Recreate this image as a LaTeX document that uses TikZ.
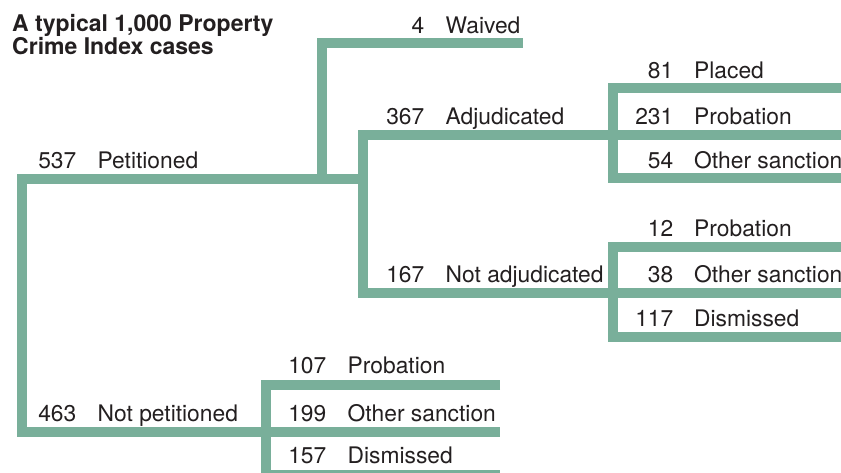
\documentclass[tikz,border=0pt]{standalone}
\usepackage{fontspec}
\setmainfont{TeX Gyre Heros}
\definecolor{branchcol}{RGB}{121,175,154}
\definecolor{textcol}{RGB}{35,31,32}
\begin{document}
\begin{tikzpicture}[x=1pt,y=-1pt,
  branch/.style={draw=branchcol,line width=10pt,line join=miter,line cap=butt},
  lab/.style={inner sep=0pt,anchor=base west,text=textcol,font=\fontsize{22.8}{24}\selectfont},
  num/.style={inner sep=0pt,anchor=base east,text=textcol,font=\fontsize{22.8}{24}\selectfont},
  ttl/.style={inner sep=0pt,anchor=base west,text=textcol,font=\fontsize{23}{24}\selectfont\bfseries}]
\useasboundingbox (0,0) rectangle (841,472);
\clip (0,0) rectangle (841,472);
% coordinates
\coordinate (root) at (22,179);
\coordinate (rootJ) at (363,179);
\coordinate (np) at (22,432);
\coordinate (npE) at (500,432);
\coordinate (wvB) at (322,179);
\coordinate (wvT) at (322,43);
\coordinate (wvE) at (523,43);
\coordinate (adjS) at (363,135);
\coordinate (adjE) at (846,135);
\coordinate (nadjS) at (363,293);
\coordinate (nadjE) at (846,293);
\coordinate (aT) at (613,88);
\coordinate (aTE) at (846,88);
\coordinate (aB) at (613,178);
\coordinate (aBE) at (846,178);
\coordinate (nT) at (613,247);
\coordinate (nTE) at (846,247);
\coordinate (nB) at (613,337);
\coordinate (nBE) at (846,337);
\coordinate (pT) at (266,385);
\coordinate (pTE) at (500,385);
\coordinate (pB) at (266,475);
\coordinate (pBE) at (500,475);
% branches
\draw[branch] (rootJ) -- (root) -- (np) -- (npE);
\draw[branch] (wvB) -- (wvT) -- (wvE);
\draw[branch] (adjE) -- (adjS) -- (nadjS) -- (nadjE);
\draw[branch] (aTE) -- (aT) -- (aB) -- (aBE);
\draw[branch] (nTE) -- (nT) -- (nB) -- (nBE);
\draw[branch] (pTE) -- (pT) -- (pB) -- (pBE);
% title
\node[ttl] (t1) at (12,31) {A typical 1,000 Property};
\node[ttl] (t2) at (12,54) {Crime Index cases};
% labels column 1
\node[num] (n537) at (76.5,168) {537};
\node[lab] (l537) at (97.5,168) {Petitioned};
\node[num] (n463) at (76.5,421) {463};
\node[lab] (l463) at (97.5,421) {Not petitioned};
% column 2
\node[num] (n107) at (326.5,373) {107};
\node[lab] (l107) at (347.5,373) {Probation};
\node[num] (n199) at (326.5,421) {199};
\node[lab] (l199) at (347.5,421) {Other sanction};
\node[num] (n157) at (326.5,463) {157};
\node[lab] (l157) at (347.5,463) {Dismissed};
% column 3
\node[num] (n4) at (424.5,33) {4};
\node[lab] (l4) at (445.5,33) {Waived};
\node[num] (n367) at (424.5,124) {367};
\node[lab] (l367) at (445.5,124) {Adjudicated};
\node[num] (n167) at (424.5,282) {167};
\node[lab] (l167) at (445.5,282) {Not adjudicated};
% column 4
\node[num] (n81) at (673.5,78) {81};
\node[lab] (l81) at (694,78) {Placed};
\node[num] (n231) at (673.5,124) {231};
\node[lab] (l231) at (694,124) {Probation};
\node[num] (n54) at (673.5,168) {54};
\node[lab] (l54) at (694,168) {Other sanction};
\node[num] (n12) at (673.5,236) {12};
\node[lab] (l12) at (694,236) {Probation};
\node[num] (n38) at (673.5,282) {38};
\node[lab] (l38) at (694,282) {Other sanction};
\node[num] (n117) at (673.5,326) {117};
\node[lab] (l117) at (694,326) {Dismissed};
\end{tikzpicture}
\end{document}
